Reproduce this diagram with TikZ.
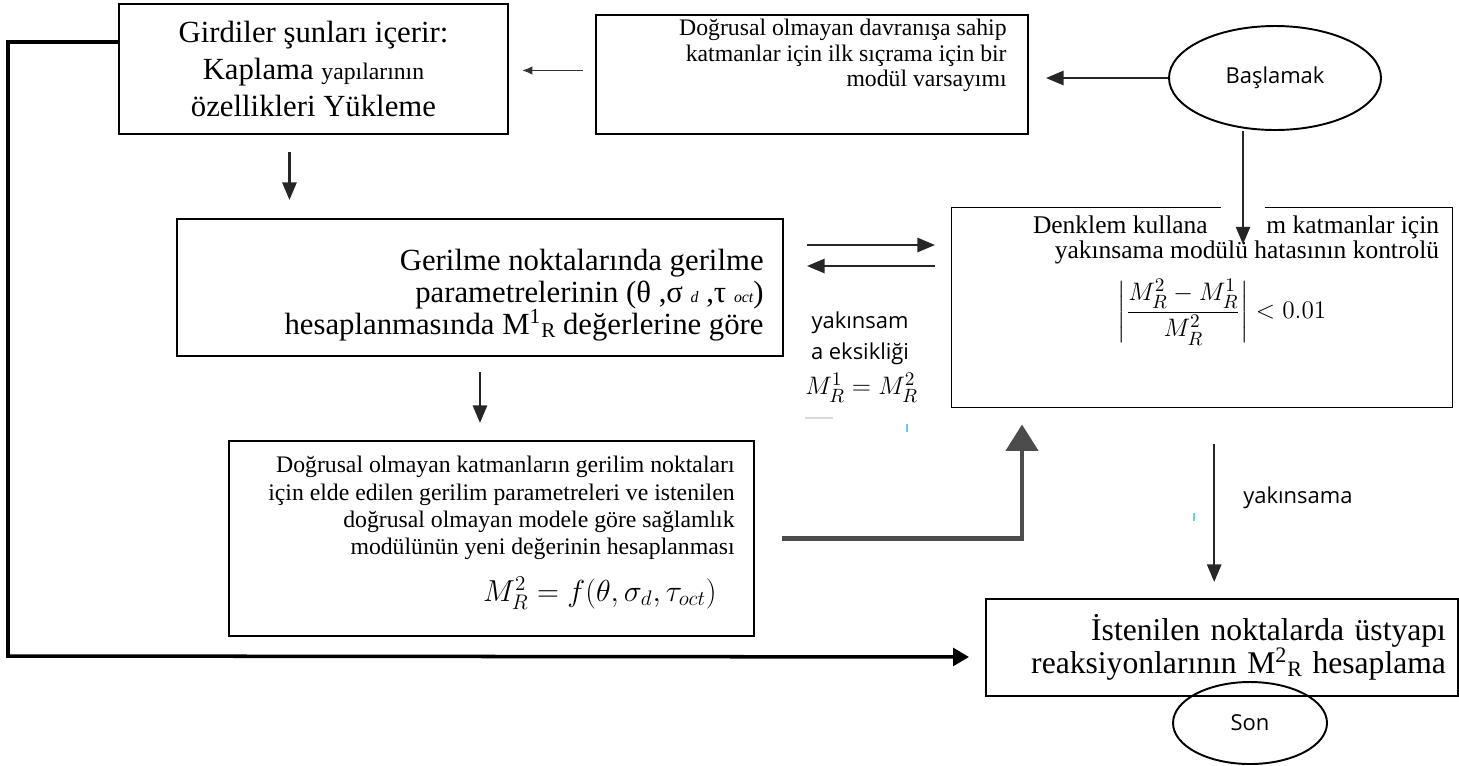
\documentclass[tikz,border=0pt]{standalone}
\usepackage{amsmath}
\usepackage{fontspec}
\setmainfont{Liberation Serif}
\newfontfamily\uisans{Open Sans}
\usetikzlibrary{arrows.meta}
\usetikzlibrary{shapes.geometric}
\usetikzlibrary{positioning}
\usetikzlibrary{calc}

\newcommand{\pxu}{0.02cm}
\newcommand{\fs}[2]{\fontsize{#1}{#2}\selectfont}

\tikzset{
  box/.style={draw, line width=1.1pt, inner sep=0pt, anchor=north west},
  oval/.style={draw, ellipse, line width=1.1pt, inner sep=0pt, font=\uisans\fs{12.5}{15}},
  lbl/.style={inner sep=0pt},
  sanslbl/.style={inner sep=0pt, font=\uisans\fs{12.5}{17.5}},
  thinarr/.style={-{Latex[length=6pt,width=5pt]}, line width=1.1pt, draw=black!80},
  midarr/.style={-{Triangle[length=10pt,width=8pt]}, line width=1.4pt, draw=black!85},
  bigarr/.style={-{Triangle[length=15pt,width=18pt]}, line width=2.8pt, draw=black!70},
  loopline/.style={-{Triangle[length=9pt,width=10pt]}, line width=2pt}
}

\begin{document}
\begin{tikzpicture}[x=\pxu, y=-\pxu]
  \useasboundingbox (0,0) rectangle (1459,765);

  % top row
  \node[box, minimum width=389*\pxu, minimum height=130*\pxu, align=center, font=\fs{17.5}{21}] (girdi) at (118,3)
    {Girdiler şunları içerir:\\ Kaplama {\fs{13.5}{21}yapılarının}\\ özellikleri Yükleme};
  \node[box, minimum width=432*\pxu, minimum height=119*\pxu] (init) at (595,14) {};
  \node[lbl, anchor=north east, align=right, font=\fs{13.5}{14.5}] (initlbl) at ([shift={(-22,5)}]init.north east)
    {Doğrusal olmayan davranışa sahip\\ katmanlar için ilk sıçrama için bir\\ modül varsayımı};
  \node[oval, minimum width=212*\pxu, minimum height=104*\pxu] (start) at (1275,78) {Başlamak};

  \draw[midarr, shorten >=17*\pxu] (start.west) -- (start.west -| init.east);
  \draw[thinarr, shorten <=12*\pxu, shorten >=13*\pxu] ([shift={(0,-4)}]init.west) -- ([shift={(0,-4)}]init.west -| girdi.east);

  % middle row
  \node[box, minimum width=606*\pxu, minimum height=137*\pxu] (ger) at (176,218) {};
  \node[lbl, anchor=east, align=right, font=\fs{17.5}{18.2}] (gerlbl) at ([shift={(-20,8)}]ger.east)
    {Gerilme noktalarında gerilme\\ parametrelerinin (θ ,σ {\fs{9}{9}\itshape d} ,τ {\fs{9}{9}\itshape oct})\\
     hesaplanmasında M\textsuperscript{1}\raisebox{-.2ex}{\fs{12}{12}R} değerlerine göre};
  \node[box, minimum width=501*\pxu, minimum height=200*\pxu, line width=0.8pt] (denk) at (951,207) {};
  \node[lbl, anchor=north east, align=right, font=\fs{14.5}{14.5}] (denklbl) at ([shift={(-14,8)}]denk.north east)
    {Denklem kullana\hphantom{rak tü}m katmanlar için\\ yakınsama modülü hatasının kontrolü};
  \node[lbl, font=\fs{15}{17}] (denkeq) at (1222,312)
    {$\left|\dfrac{M_R^2-M_R^1}{M_R^2}\right|<0.01$};

  \draw[midarr] ($(ger.north east)+(23,27)$) -- ($(denk.north west)+(-16,38)$);
  \draw[midarr] ($(denk.north west)+(-16,59)$) -- ($(ger.north east)+(23,48)$);

  \node[sanslbl, align=center] (nonconv) at (860,338) {yakınsam\\ a eksikliği};
  \begin{scope}
    \clip (795,366) rectangle (916,412);
    \node[lbl, anchor=west, font=\fs{15}{15}] (eqcond) at (805,388) {$M_R^1=M_R^2$};
  \end{scope}
  \draw[black!15, line width=1pt] (805,418) -- (833,418);
  \draw[cyan!60, line width=1.2pt] (907,424) -- (907,432);

  % arrow from start, over the check box
  \node[fill=white, inner sep=0pt, minimum width=44*\pxu, minimum height=30*\pxu] (gap) at (1243,217) {};
  \coordinate (gaptip) at ($(gap.south)+(0,12)$);
  \draw[midarr] (start.south -| gap) -- (gaptip);

  \coordinate (gtop) at ($(girdi.south)+(-24,17)$);
  \draw[midarr, shorten >=18*\pxu] (gtop) -- (gtop |- ger.north);

  % bottom row
  \node[box, minimum width=525*\pxu, minimum height=195*\pxu] (newmod) at (228,440) {};
  \node[lbl, anchor=north east, align=right, font=\fs{13.5}{15.5}] (newmodlbl) at ([shift={(-20,16)}]newmod.north east)
    {Doğrusal olmayan katmanların gerilim noktaları\\ için elde edilen gerilim parametreleri ve istenilen\\
     doğrusal olmayan modele göre sağlamlık\\ modülünün yeni değerinin hesaplanması};
  \node[lbl, anchor=east, font=\fs{18}{18}] (newmodeq) at (717,593) {$M_R^2=f(\theta,\sigma_d,\tau_{oct})$};

  \draw[midarr, shorten <=15*\pxu, shorten >=17*\pxu] (ger.south) -- (ger.south |- newmod.north);
  \draw[bigarr] ($(newmod.east)+(27,0)$) -| ($(denk.south west)+(71,16)$);

  \node[box, minimum width=472*\pxu, minimum height=97*\pxu, text width=448*\pxu, align=right, font=\fs{18}{18.8}] (result) at (985,598)
    {İstenilen noktalarda üstyapı\\ reaksiyonlarının M\textsuperscript{2}\raisebox{-.2ex}{\fs{12.5}{12.5}R} hesaplama};
  \node[oval, minimum width=154*\pxu, minimum height=82*\pxu] (stop) at (1250,723) {Son};

  \coordinate (convtop) at ($(denk.south)+(12,36)$);
  \draw[midarr, shorten >=16*\pxu] (convtop) -- (convtop |- result.north);
  \node[sanslbl, anchor=west] (convlbl) at (1243,498) {yakınsama};
  \draw[cyan!60, line width=1.2pt] (1194,513) -- (1194,521);

  % loop back to the result
  \coordinate (loopcorner) at (8,656);
  \draw[loopline] ($(girdi.north west)+(0,39)$) -| (loopcorner) -- ($(result.west)+(-16,9.5)$);
\end{tikzpicture}
\end{document}
